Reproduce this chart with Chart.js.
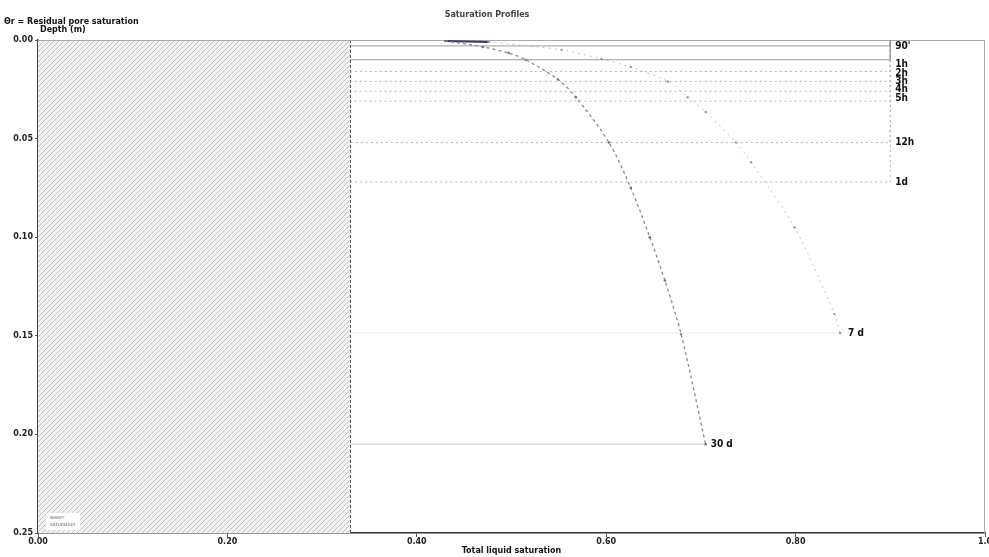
<!DOCTYPE html>
<html>
<head>
<meta charset="utf-8">
<script src="https://cdn.jsdelivr.net/npm/chart.js@4/dist/chart.umd.min.js"></script>
<style>
  body { margin: 0; background: #fff; }
  #wrap { width: 989px; height: 557px; position: relative; }
</style>
</head>
<body>
<div id="wrap"><canvas id="c" width="989" height="557"></canvas></div>
<script>
// Saturation profile data
const residualSat = 0.33;
const plateauSat = 0.90;

// early profiles: saturated plateau then a sharp front
const earlyLabels = ["90'", "1h", "2h", "3h", "4h", "5h", "12h", "1d"];
const earlyFronts = [0.003, 0.010, 0.016, 0.021, 0.026, 0.031, 0.052, 0.072];

// 7 day profile
const sat7d = [0.476, 0.553, 0.595, 0.626, 0.665, 0.686, 0.705, 0.737, 0.753, 0.799, 0.841, 0.847];
const depth7d = [0.001, 0.005, 0.0096, 0.0137, 0.021, 0.029, 0.0365, 0.052, 0.062, 0.095, 0.139, 0.1486];

// 30 day profile
const sat30d = [0.43, 0.47, 0.497, 0.515, 0.549, 0.568, 0.603, 0.626, 0.646, 0.662, 0.679, 0.705];
const depth30d = [0.0005, 0.0035, 0.0066, 0.010, 0.020, 0.029, 0.052, 0.075, 0.100, 0.122, 0.149, 0.205];

const xTicks = [0, 0.2, 0.4, 0.6, 0.8, 1.0];
const yTicks = [0, 0.05, 0.10, 0.15, 0.20, 0.25];

function pts(xs, ys) {
  return xs.map((x, i) => ({ x: x, y: ys[i] }));
}

// hatch pattern for the residual zone
function makeHatch() {
  const p = document.createElement('canvas');
  p.width = 5; p.height = 5;
  const g = p.getContext('2d');
  g.fillStyle = '#f2f2f2';
  g.fillRect(0, 0, 5, 5);
  g.strokeStyle = '#bcbcbc';
  g.lineWidth = 0.9;
  g.beginPath();
  g.moveTo(0, 5); g.lineTo(5, 0);
  g.moveTo(-1, 1); g.lineTo(1, -1);
  g.moveTo(4, 6); g.lineTo(6, 4);
  g.stroke();
  return g.createPattern(p, 'repeat');
}

const datasets = [];

earlyLabels.forEach((lab, i) => {
  const d = earlyFronts[i];
  datasets.push({
    label: lab,
    data: [{ x: plateauSat, y: 0 }, { x: plateauSat, y: d }, { x: residualSat, y: d }],
    borderColor: i < 2 ? '#9a9a9a' : '#b4b4b4',
    borderWidth: 1,
    borderDash: i < 2 ? [] : [2, 3],
    pointRadius: 0,
    tension: 0
  });
});

datasets.push({
  label: '7 d',
  data: pts(sat7d, depth7d),
  borderColor: '#c4c4c4',
  borderWidth: 1,
  borderDash: [2, 4],
  pointRadius: 1.2,
  pointBackgroundColor: '#9a9a9a',
  pointBorderWidth: 0,
  tension: 0.3
});
datasets.push({
  label: '7 d front',
  data: [{ x: sat7d[sat7d.length - 1], y: depth7d[depth7d.length - 1] },
         { x: residualSat, y: depth7d[depth7d.length - 1] }],
  borderColor: '#ececec',
  borderWidth: 1,
  pointRadius: 0
});

datasets.push({
  label: '30 d',
  data: pts(sat30d, depth30d),
  borderColor: '#8a8a8a',
  borderWidth: 1.3,
  borderDash: [3, 3],
  pointRadius: 1.3,
  pointBackgroundColor: '#777',
  pointBorderWidth: 0,
  tension: 0.3
});
datasets.push({
  label: '30 d front',
  data: [{ x: sat30d[sat30d.length - 1], y: depth30d[depth30d.length - 1] },
         { x: residualSat, y: depth30d[depth30d.length - 1] }],
  borderColor: '#cfcfcf',
  borderWidth: 1,
  pointRadius: 0
});
// dark surface mark
datasets.push({
  label: 'surface',
  data: [{ x: 0.43, y: 0.0005 }, { x: 0.475, y: 0.001 }],
  borderColor: '#3c3c5a',
  borderWidth: 2,
  pointRadius: 0
});

const residualZone = {
  id: 'residualZone',
  beforeDatasetsDraw(chart) {
    const { ctx, chartArea, scales } = chart;
    const xr = scales.x.getPixelForValue(residualSat);
    ctx.save();
    ctx.fillStyle = makeHatch();
    ctx.fillRect(chartArea.left, chartArea.top, xr - chartArea.left, chartArea.bottom - chartArea.top);
    ctx.strokeStyle = '#555';
    ctx.setLineDash([3, 2]);
    ctx.beginPath();
    ctx.moveTo(xr, chartArea.top);
    ctx.lineTo(xr, chartArea.bottom);
    ctx.stroke();
    ctx.setLineDash([]);
    ctx.strokeStyle = '#aaa';
    ctx.beginPath();
    ctx.moveTo(chartArea.left, chartArea.top + 0.5);
    ctx.lineTo(chartArea.right, chartArea.top + 0.5);
    ctx.moveTo(chartArea.right - 0.5, chartArea.top);
    ctx.lineTo(chartArea.right - 0.5, chartArea.bottom);
    ctx.stroke();
    // tiny legend inside hatch
    ctx.fillStyle = '#fff';
    ctx.fillRect(chartArea.left + 8, chartArea.bottom - 20, 34, 17);
    ctx.font = '5px "DejaVu Sans"';
    ctx.fillStyle = '#666';
    ctx.textBaseline = 'middle';
    ctx.fillText('water', chartArea.left + 12, chartArea.bottom - 15);
    ctx.fillText('saturation', chartArea.left + 12, chartArea.bottom - 8);
    ctx.restore();
  }
};

const textLayer = {
  id: 'textLayer',
  afterDraw(chart) {
    const { ctx, chartArea, scales } = chart;
    const sx = scales.x, sy = scales.y;
    ctx.save();
    ctx.textBaseline = 'middle';
    // curve labels
    ctx.fillStyle = '#111';
    ctx.font = 'bold 10px "DejaVu Sans Condensed"';
    const lx = sx.getPixelForValue(plateauSat) + 5;
    const labelY = [46, 64, 73, 81, 89, 98, 142, 186];
    earlyLabels.forEach((lab, i) => {
      // labels near the fronts, nudged apart where they crowd together
      const py = i < 6 ? labelY[i] : sy.getPixelForValue(earlyFronts[i]);
      ctx.fillText(lab, lx, py);
    });
    ctx.fillText('7 d', sx.getPixelForValue(sat7d[sat7d.length - 1]) + 8, sy.getPixelForValue(depth7d[depth7d.length - 1]));
    ctx.fillText('30 d', sx.getPixelForValue(sat30d[sat30d.length - 1]) + 5, sy.getPixelForValue(depth30d[depth30d.length - 1]));
    // titles
    ctx.font = 'bold 8px "DejaVu Sans"';
    ctx.fillStyle = '#444';
    ctx.textAlign = 'center';
    ctx.fillText('Saturation Profiles', 487, 15);
    ctx.fillStyle = '#111';
    ctx.fillText('Total liquid saturation', (chartArea.left + chartArea.right) / 2, 551);
    ctx.textAlign = 'left';
    ctx.fillText('\u0398r = Residual pore saturation', 4, 22);
    ctx.fillText('Depth (m)', 40, 30);
    ctx.restore();
  }
};

new Chart(document.getElementById('c'), {
  type: 'line',
  data: { datasets: datasets },
  options: {
    responsive: false,
    animation: false,
    parsing: false,
    layout: { padding: { top: 40, right: -2, left: 0, bottom: 0 } },
    plugins: { legend: { display: false }, tooltip: { enabled: false }, title: { display: false } },
    scales: {
      x: {
        type: 'linear', min: 0, max: 1,
        afterBuildTicks: s => { s.ticks = xTicks.map(v => ({ value: v })); },
        afterFit: s => { s.height = 24; s.paddingRight = 0; s.paddingLeft = 0; },
        grid: { drawOnChartArea: false, tickLength: 4, color: '#555' },
        border: { color: '#333', width: 1.5 },
        ticks: {
          padding: 0,
          color: '#222',
          font: { size: 8, weight: 'bold', family: 'DejaVu Sans' },
          callback: v => (v === 1 ? '1.0' : v.toFixed(2))
        }
      },
      y: {
        type: 'linear', min: 0, max: 0.25, reverse: true,
        afterBuildTicks: s => { s.ticks = yTicks.map(v => ({ value: v })); },
        afterFit: s => { s.width = 38; s.paddingTop = 0; s.paddingBottom = 0; },
        grid: { drawOnChartArea: false, tickLength: 3, color: '#555' },
        border: { color: '#444', width: 1.5 },
        ticks: {
          padding: 2,
          color: '#222',
          font: { size: 8, weight: 'bold', family: 'DejaVu Sans' },
          callback: v => v.toFixed(2)
        }
      }
    }
  },
  plugins: [residualZone, textLayer]
});
</script>
</body>
</html>
